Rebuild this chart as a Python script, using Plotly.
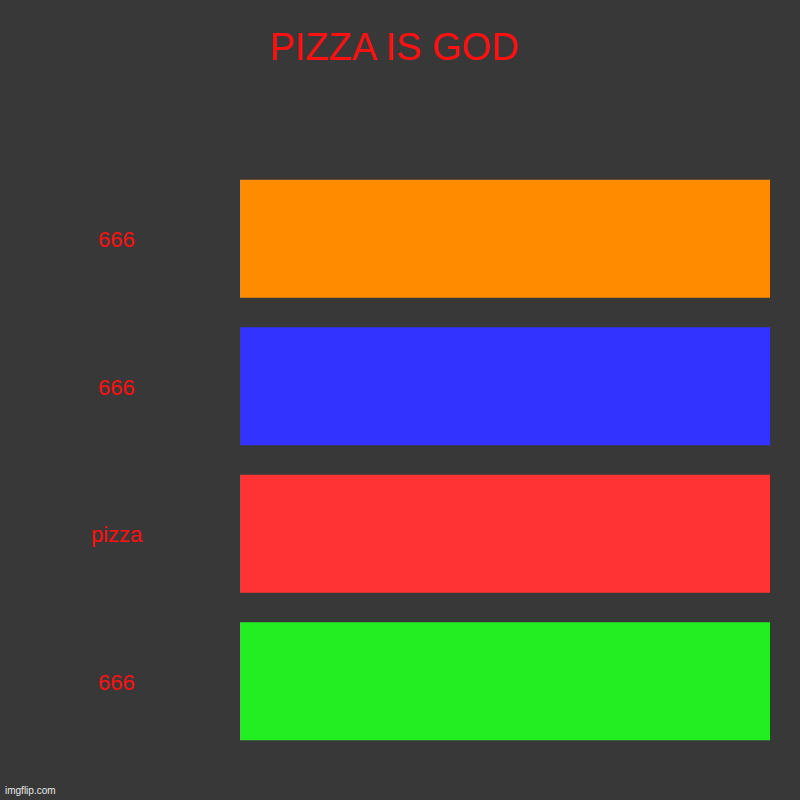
import plotly.graph_objects as go

labels = ["666", "666", "pizza", "666"]
values = [1, 1, 1, 1]
colors = ["#ff8c00", "#3333ff", "#ff3333", "#22ee22"]

positions = list(range(len(labels)))

fig = go.Figure()
fig.add_trace(go.Bar(
    x=values,
    y=positions,
    orientation="h",
    marker=dict(color=colors, line=dict(width=0)),
    hoverinfo="skip",
))

for p, lab in zip(positions, labels):
    fig.add_annotation(
        x=(116.5 - 240) / 530, xref="paper", y=p, yref="y", text=lab, showarrow=False,
        xanchor="center", yanchor="middle", yshift=-1,
        font=dict(family="Liberation Sans, Arial, sans-serif", size=22, color="#ff1010"))

fig.update_layout(
    width=800, height=800,
    paper_bgcolor="#383838", plot_bgcolor="#383838",
    margin=dict(l=240, r=30, t=165, b=45),
    bargap=0.2,
    showlegend=False,
    title=dict(text="PIZZA IS GOD", x=394 / 800, xanchor="center", xref="container",
               y=1 - 47 / 800, yanchor="middle", yref="container",
               font=dict(family="Liberation Sans, Arial, sans-serif", size=38, color="#ff1010")),
    xaxis=dict(visible=False, range=[0, max(values)], fixedrange=True),
    yaxis=dict(visible=False, range=[len(labels) - 0.5, -0.5], fixedrange=True),
)

# watermark
fig.add_annotation(
    x=-237 / 530, xref="paper", xanchor="left",
    y=-35 / 590, yref="paper", yanchor="middle",
    text="imgflip.com", showarrow=False,
    font=dict(family="Liberation Sans, Arial, sans-serif", size=10, color="#e8e8e8"),
)

fig.write_html("out.html", config={"displayModeBar": False},
               post_script="document.body.style.margin='0';document.body.style.background='#383838';")
